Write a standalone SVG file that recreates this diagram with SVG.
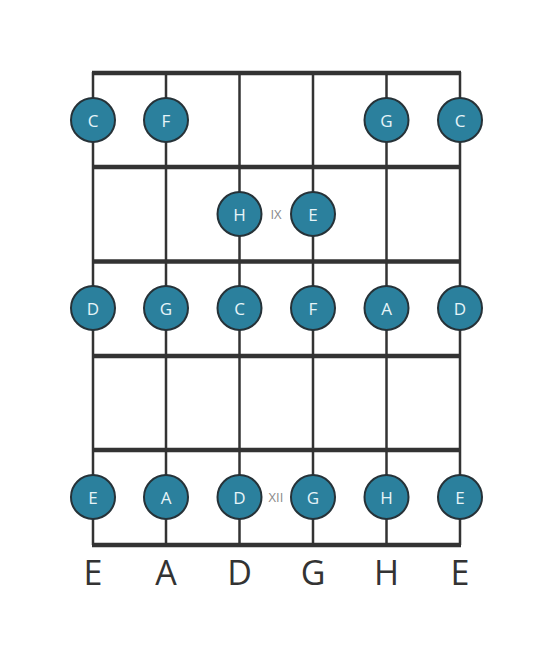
<svg xmlns="http://www.w3.org/2000/svg" width="553" height="656" viewBox="0 0 553 656">
<style>
.fret{stroke:#333;stroke-width:4.5;}
.str{stroke:#333;stroke-width:2.5;}
.note circle{fill:#2b809d;stroke:#263238;stroke-width:2;}
.note text{fill:#e6f4f8;font-family:"Open Sans","Noto Sans",sans-serif;font-size:17px;text-anchor:middle;dominant-baseline:central;}
.pos{fill:#8a8a8a;font-family:"Open Sans","Noto Sans",sans-serif;font-size:13px;text-anchor:middle;dominant-baseline:central;}
.lbl{fill:#333;font-family:"Open Sans","Noto Sans",sans-serif;font-size:34px;text-anchor:middle;}
</style>
<rect width="553" height="656" fill="#fff"/>
<g id="connectors">
<line class="str" x1="93" y1="72" x2="93" y2="545"/>
<line class="str" x1="166" y1="72" x2="166" y2="545"/>
<line class="str" x1="239.5" y1="72" x2="239.5" y2="545"/>
<line class="str" x1="313" y1="72" x2="313" y2="545"/>
<line class="str" x1="386.5" y1="72" x2="386.5" y2="545"/>
<line class="str" x1="460" y1="72" x2="460" y2="545"/>
<line class="fret" x1="92" y1="73" x2="461" y2="73"/>
<line class="fret" x1="92" y1="167" x2="461" y2="167"/>
<line class="fret" x1="92" y1="261.5" x2="461" y2="261.5"/>
<line class="fret" x1="92" y1="356" x2="461" y2="356"/>
<line class="fret" x1="92" y1="450" x2="461" y2="450"/>
<line class="fret" x1="92" y1="545" x2="461" y2="545"/>
</g>
<g id="n1" class="note"><circle cx="93" cy="120" r="22"/><text x="93" y="120">C</text></g>
<g id="n2" class="note"><circle cx="166" cy="120" r="22"/><text x="166" y="120">F</text></g>
<g id="n3" class="note"><circle cx="386.5" cy="120" r="22"/><text x="386.5" y="120">G</text></g>
<g id="n4" class="note"><circle cx="460" cy="120" r="22"/><text x="460" y="120">C</text></g>
<g id="n5" class="note"><circle cx="239.5" cy="214" r="22"/><text x="239.5" y="214">H</text></g>
<g id="n6" class="note"><circle cx="313" cy="214" r="22"/><text x="313" y="214">E</text></g>
<text id="pos9" class="pos" x="276" y="214">IX</text>
<g id="n7" class="note"><circle cx="93" cy="308" r="22"/><text x="93" y="308">D</text></g>
<g id="n8" class="note"><circle cx="166" cy="308" r="22"/><text x="166" y="308">G</text></g>
<g id="n9" class="note"><circle cx="239.5" cy="308" r="22"/><text x="239.5" y="308">C</text></g>
<g id="n10" class="note"><circle cx="313" cy="308" r="22"/><text x="313" y="308">F</text></g>
<g id="n11" class="note"><circle cx="386.5" cy="308" r="22"/><text x="386.5" y="308">A</text></g>
<g id="n12" class="note"><circle cx="460" cy="308" r="22"/><text x="460" y="308">D</text></g>
<g id="n13" class="note"><circle cx="93" cy="497" r="22"/><text x="93" y="497">E</text></g>
<g id="n14" class="note"><circle cx="166" cy="497" r="22"/><text x="166" y="497">A</text></g>
<g id="n15" class="note"><circle cx="239.5" cy="497" r="22"/><text x="239.5" y="497">D</text></g>
<g id="n16" class="note"><circle cx="313" cy="497" r="22"/><text x="313" y="497">G</text></g>
<g id="n17" class="note"><circle cx="386.5" cy="497" r="22"/><text x="386.5" y="497">H</text></g>
<g id="n18" class="note"><circle cx="460" cy="497" r="22"/><text x="460" y="497">E</text></g>
<text id="pos12" class="pos" x="276" y="497">XII</text>
<g id="labels">
<text class="lbl" x="93" y="585">E</text>
<text class="lbl" x="166" y="585">A</text>
<text class="lbl" x="239.5" y="585">D</text>
<text class="lbl" x="313" y="585">G</text>
<text class="lbl" x="386.5" y="585">H</text>
<text class="lbl" x="460" y="585">E</text>
</g>
</svg>
